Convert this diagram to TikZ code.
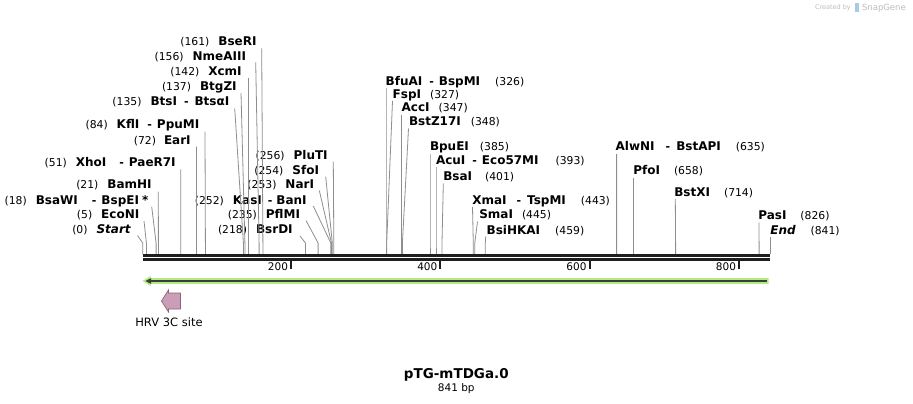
\documentclass[tikz,border=0pt]{standalone}
\usepackage{fontspec}
\setmainfont{DejaVu Sans}
\definecolor{cutgray}{HTML}{8E8E8E}
\definecolor{barblack}{HTML}{1E1E1E}
\definecolor{featgreen}{HTML}{B2EC80}
\definecolor{featdark}{HTML}{3C3C3C}
\definecolor{hrvfill}{HTML}{CC9DB6}
\definecolor{hrvline}{HTML}{8A6478}
\definecolor{wmgray}{HTML}{BDBDBD}
\definecolor{wmblue}{HTML}{A9CBE0}
\newcommand\nmb[1]{{\fontsize{10.8}{12}\selectfont(#1)}}
\newcommand\enz[1]{{\fontsize{12}{14}\selectfont\bfseries #1}}
\newcommand\enzit[1]{{\fontsize{12}{14}\selectfont\bfseries\itshape #1}}
\newcommand\dsh[2]{\hspace{#1pt}{\fontsize{11}{13}\selectfont\bfseries -}\hspace{#2pt}}
\newcommand\gp[1]{\hspace{#1pt}}
\newcommand\cutL[3]{\draw[cutline] (#1.base east) ++(#2) -- (#3,243) -- (#3,254);}
\newcommand\cutR[3]{\draw[cutline] (#1.base west) ++(#2) -- (#3,243) -- (#3,254);}
\tikzset{
  lbl/.style={inner sep=0pt, outer sep=0pt, text=black},
  lblL/.style={lbl, anchor=base east},
  lblR/.style={lbl, anchor=base west},
  cutline/.style={draw=cutgray, line width=0.8pt},
  barline/.style={draw=barblack, line width=3pt},
  tickmark/.style={draw=barblack, line width=2pt},
  ticklbl/.style={lbl, anchor=base east, font=\fontsize{10.5}{12}\selectfont},
}
\begin{document}
\begin{tikzpicture}[x=1pt,y=-1pt]
\useasboundingbox (0,0) rectangle (913,404);
\fill[white] (0,0) rectangle (913,404);

% watermark
\node[lbl, anchor=base west, text=wmgray, font=\fontsize{6.5}{8}\selectfont] (wm1) at (815,10) {Created by};
\fill[wmblue] (855,3) rectangle (859,12);
\node[lbl, anchor=base west, text=wmgray, font=\fontsize{8.5}{10}\selectfont] (wm2) at (862,10.5) {SnapGene};

% ---------- left labels ----------
\node[lblL] (n161) at (256.5,46)   {\nmb{161}\gp{9}\enz{BseRI}};
\node[lblL] (n156) at (246,60)     {\nmb{156}\gp{9}\enz{NmeAIII}};
\node[lblL] (n142) at (241.7,75.7) {\nmb{142}\gp{9}\enz{XcmI}};
\node[lblL] (n137) at (236.7,90.7) {\nmb{137}\gp{9}\enz{BtgZI}};
\node[lblL] (n135) at (229.3,105)  {\nmb{135}\gp{9}\enz{BtsI}\dsh{7}{6}\enz{BtsαI}};
\node[lblL] (n84)  at (199.3,128.3){\nmb{84}\gp{9}\enz{KflI}\dsh{8}{5}\enz{PpuMI}};
\node[lblL] (n72)  at (190.7,144)  {\nmb{72}\gp{8}\enz{EarI}};
\node[lblL] (n51)  at (175.7,166.7){\nmb{51}\gp{9}\enz{XhoI}\dsh{13}{5}\enz{PaeR7I}};
\node[lblL] (n21)  at (151.7,188.3){\nmb{21}\gp{9}\enz{BamHI}};
\node[lblL] (n18)  at (148.3,204)  {\nmb{18}\gp{9}\enz{BsaWI}\dsh{14}{5}\enz{BspEI}\gp{3}\enz{*}};
\node[lblL] (n5)   at (139.3,218)  {\nmb{5}\gp{9}\enz{EcoNI}};
\node[lblL] (n0)   at (130.7,233.3){\nmb{0}\gp{9}\enzit{Start}};

\node[lblL] (n256) at (327.7,159)  {\nmb{256}\gp{9}\enz{PluTI}};
\node[lblL] (n254) at (319,174)    {\nmb{254}\gp{9}\enz{SfoI}};
\node[lblL] (n253) at (314,188.3)  {\nmb{253}\gp{9}\enz{NarI}};
\node[lblL] (n252) at (306.7,204)  {\nmb{252}\gp{9}\enz{KasI}\dsh{6}{4}\enz{BanI}};
\node[lblL] (n235) at (300,218)    {\nmb{235}\gp{9}\enz{PflMI}};
\node[lblL] (n218) at (292.7,233.3){\nmb{218}\gp{9}\enz{BsrDI}};

% ---------- right labels ----------
\node[lblR] (n326) at (385.7,85)   {\enz{BfuAI}\dsh{7}{5}\enz{BspMI}\gp{15}\nmb{326}};
\node[lblR] (n327) at (392.7,98.3) {\enz{FspI}\gp{9}\nmb{327}};
\node[lblR] (n347) at (401.7,111.7){\enz{AccI}\gp{9}\nmb{347}};
\node[lblR] (n348) at (409,125.7)  {\enz{BstZ17I}\gp{10}\nmb{348}};
\node[lblR] (n385) at (430,150.7)  {\enz{BpuEI}\gp{11}\nmb{385}};
\node[lblR] (n393) at (436,164)    {\enz{AcuI}\dsh{7}{5}\enz{Eco57MI}\gp{17}\nmb{393}};
\node[lblR] (n401) at (443.3,180.7){\enz{BsaI}\gp{13}\nmb{401}};
\node[lblR] (n443) at (472.3,204)  {\enz{XmaI}\dsh{10}{6}\enz{TspMI}\gp{15}\nmb{443}};
\node[lblR] (n445) at (479.3,218.3){\enz{SmaI}\gp{9}\nmb{445}};
\node[lblR] (n459) at (486.7,234)  {\enz{BsiHKAI}\gp{15}\nmb{459}};
\node[lblR] (n635) at (615.7,150.7){\enz{AlwNI}\dsh{11}{6}\enz{BstAPI}\gp{15}\nmb{635}};
\node[lblR] (n658) at (633.3,174.7){\enz{PfoI}\gp{14}\nmb{658}};
\node[lblR] (n714) at (674.3,196.3){\enz{BstXI}\gp{14}\nmb{714}};
\node[lblR] (n826) at (758.3,219.7){\enz{PasI}\gp{14}\nmb{826}};
\node[lblR] (n841) at (770.3,234)  {\enzit{End}\gp{15}\nmb{841}};

% ---------- cut lines ----------
\cutL{n161}{5.2,2.3}{262.9}
\cutL{n156}{9.7,2.3}{259.1}
\cutL{n142}{7,2.6}{248.7}
\cutL{n137}{4.3,2.3}{244.9}
\cutL{n135}{5.4,3.3}{243.4}
\cutL{n84}{5.7,3.4}{205.4}
\cutL{n72}{5.8,2.5}{196.4}
\cutL{n51}{5,2.6}{180.8}
\cutL{n21}{6.6,3.4}{158.4}
\cutL{n18}{3.4,2.7}{156.1}
\cutL{n5}{4.7,3}{146.4}
\cutL{n0}{6.8,2.2}{142.7}
\cutL{n256}{5.6,2.7}{333.8}
\cutL{n254}{6.7,2.7}{332.3}
\cutL{n253}{5.3,2.2}{331.5}
\cutL{n252}{6.6,2}{330.8}
\cutL{n235}{6,2.5}{318.1}
\cutL{n218}{7.3,2.7}{305.4}
\cutR{n326}{0.3,3}{386.0}
\cutR{n327}{-0.2,2.7}{386.7}
\cutR{n347}{0,2.8}{401.7}
\cutR{n348}{-0.5,2.8}{402.4}
\cutR{n385}{0,2.8}{430.0}
\cutR{n393}{0,3}{436.0}
\cutR{n401}{0,2.8}{442.0}
\cutR{n443}{0.2,3}{473.3}
\cutR{n445}{-1.8,3.2}{474.8}
\cutR{n459}{-1,2.5}{485.3}
\cutR{n635}{0.9,3.3}{616.6}
\cutR{n658}{0.5,2.8}{633.8}
\cutR{n714}{1,2.7}{675.6}
\cutR{n826}{0.7,2.8}{759.1}
\cutR{n841}{0,2.5}{770.3}

% ---------- sequence bar ----------
\coordinate (bs) at (142.7,255);
\coordinate (be) at (770.3,255);
\draw[barline] (bs) -- (be);
\draw[barline] ([yshift=-4.3pt]bs) -- ([yshift=-4.3pt]be);

% ticks
\foreach \tx/\tl in {291/200, 440.3/400, 589.5/600, 739/800}{
  \draw[tickmark] (\tx,261) -- (\tx,268.5);
  \node[ticklbl] (t\tl) at (\tx-3,270.5) {\tl};
}

% ---------- feature (green arrow) ----------
\fill[featgreen] (142.5,281) -- (150.5,276) -- (150.5,278.2) -- (768.5,278.2)
   -- (768.5,283.8) -- (150.5,283.8) -- (150.5,286) -- cycle;
\draw[featdark, line width=1.6pt] (149,281) -- (766.5,281);
\fill[featdark] (145.5,281) -- (151,278.2) -- (151,283.8) -- cycle;

% ---------- HRV 3C site ----------
\draw[hrvline, fill=hrvfill, line width=0.7pt]
  (161.5,301) -- (168.5,290) -- (168.5,293) -- (180.5,293) -- (180.5,309)
  -- (168.5,309) -- (168.5,312) -- cycle;
\node[lbl, anchor=base, font=\fontsize{11.5}{13}\selectfont] (hrv) at (169,326) {HRV 3C site};

% ---------- title ----------
\node[lbl, anchor=base, font=\fontsize{13.5}{16}\selectfont\bfseries] (title) at (456.3,378) {pTG-mTDGa.0};
\node[lbl, anchor=base, font=\fontsize{10.5}{12}\selectfont] (len) at (456.3,391) {841 bp};
\end{tikzpicture}
\end{document}
